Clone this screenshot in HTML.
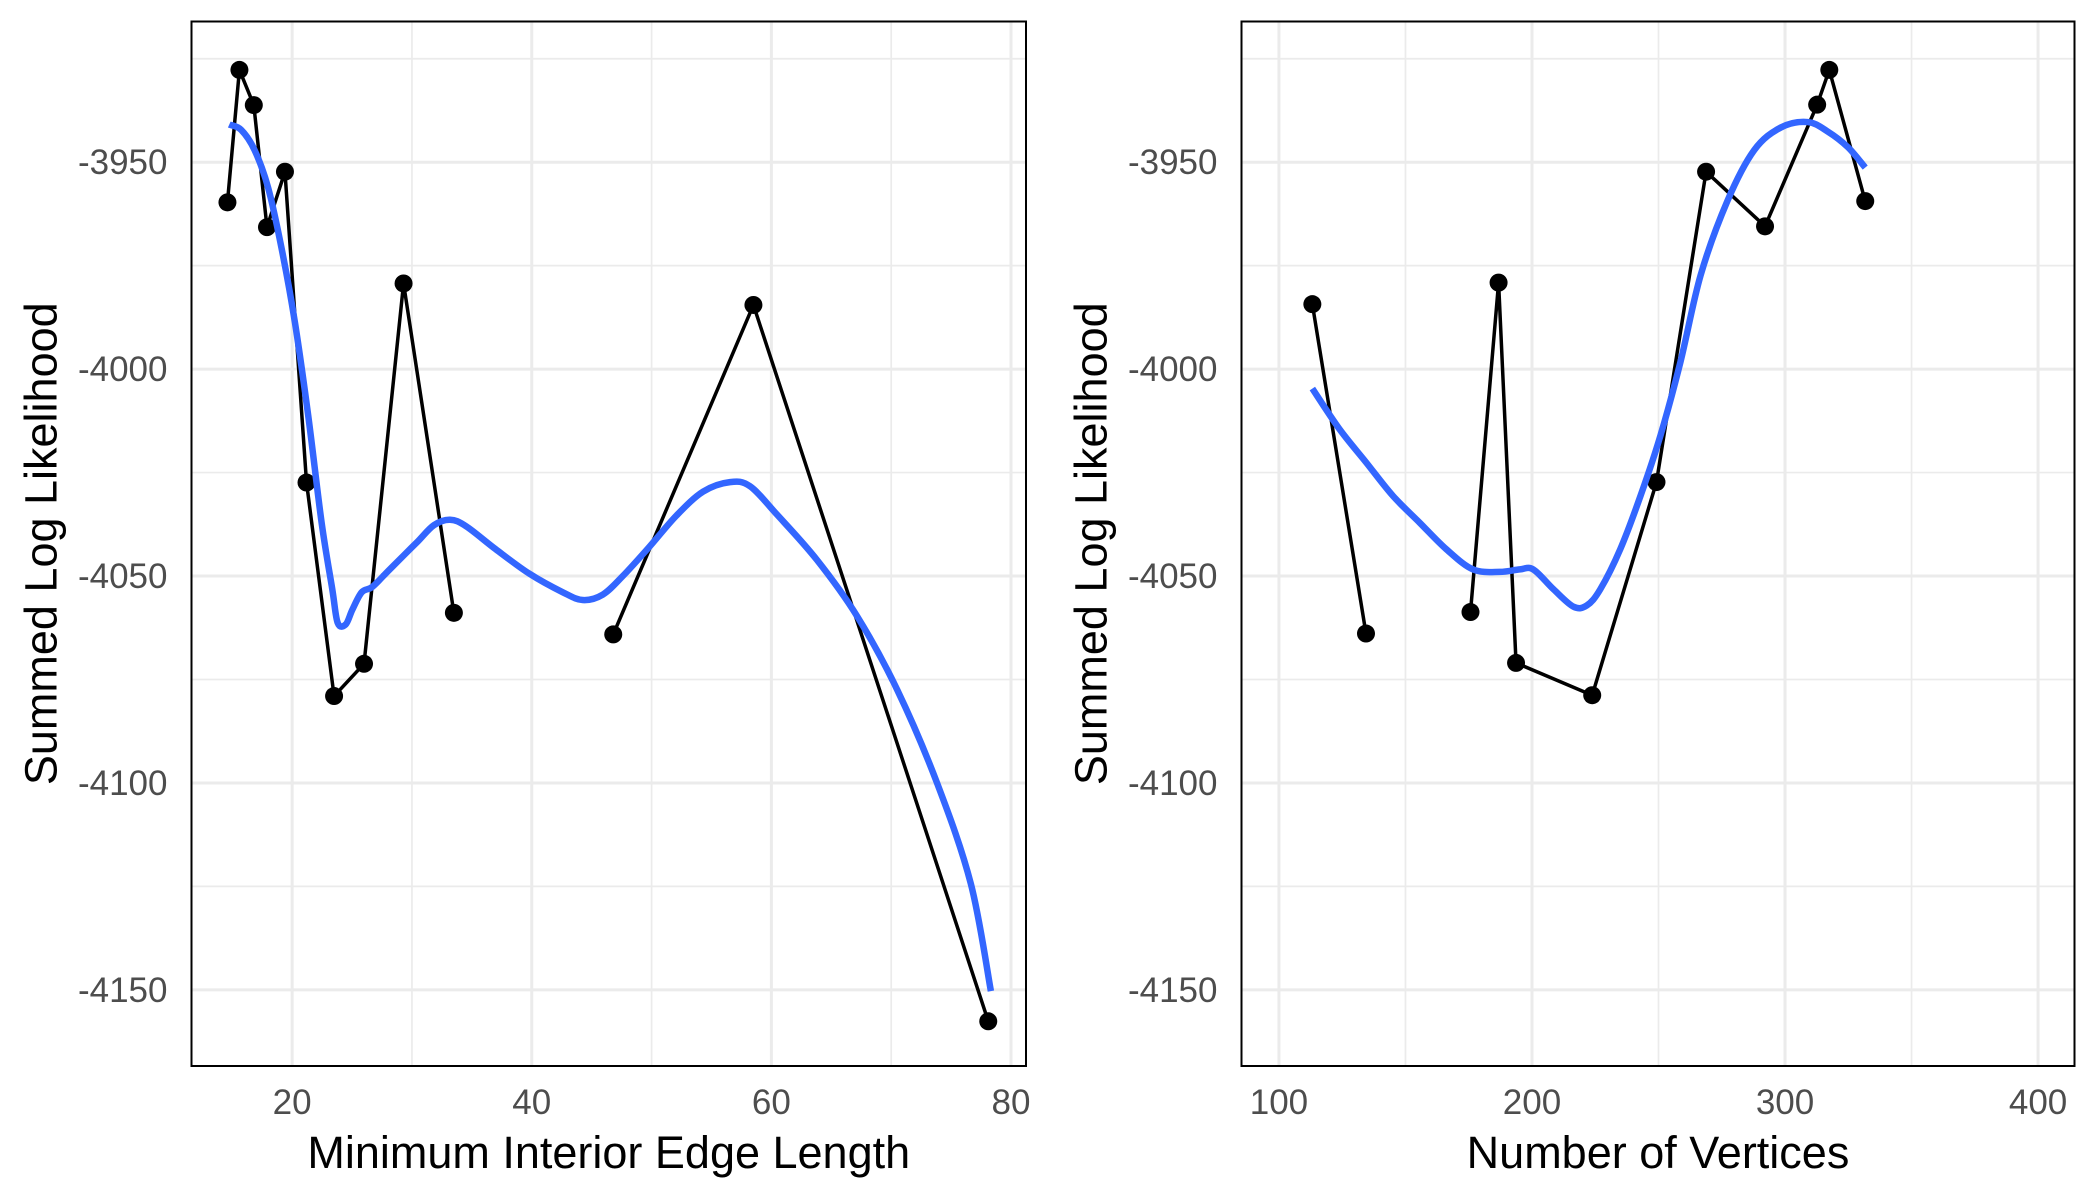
<!DOCTYPE html>
<html><head><meta charset="utf-8"><style>
html,body{margin:0;padding:0;background:#fff;}
svg{display:block;font-family:"Liberation Sans",Arial,sans-serif;}
</style></head><body>
<svg id="chart" width="2100" height="1200" viewBox="0 0 2100 1200"></svg>
<script>
const edgeX = [14.6,15.6,16.8,17.9,19.4,21.2,23.5,26.0,29.3,33.5,46.8,58.5,78.1];
const edgeY = [-3959.7,-3927.7,-3936.2,-3965.7,-3952.3,-4027.4,-4079.0,-4071.2,-3979.3,-4058.9,-4064.1,-3984.5,-4157.6];
const edgeGroup = [1,1,1,1,1,1,1,1,1,1,2,2,2];
const edgeSmoothX = [14.75,15.75,16.87,17.99,19.11,20.22,21.34,22.46,23.35,23.8,24.47,25.03,25.81,26.7,28.04,29.39,30.5,31.84,33.18,34.53,36.98,39.78,42.57,44.25,45.92,47.6,49.83,52.07,54.3,56.54,58.21,60.45,63.8,67.15,70.5,73.85,76.65,78.32];
const edgeSmoothY = [-3940.9,-3942.2,-3947.1,-3956.1,-3970.7,-3988.5,-4011.2,-4037.1,-4053.2,-4061.3,-4061.7,-4058.1,-4053.9,-4052.6,-4048.7,-4044.8,-4041.6,-4037.7,-4036.4,-4038,-4043.5,-4049.4,-4053.9,-4055.8,-4054.5,-4050,-4042.9,-4035.4,-4029.6,-4027.3,-4028.3,-4035.1,-4046.1,-4059.7,-4077.5,-4100.2,-4124.4,-4150.3];
const vertX = [113.2,134.4,175.7,186.8,193.7,223.8,249.2,268.8,292.1,312.7,317.5,331.7];
const vertY = [-3984.3,-4063.9,-4058.7,-3979.1,-4071,-4078.8,-4027.3,-3952.3,-3965.5,-3936.1,-3927.7,-3959.4];
const vertGroup = [2,2,1,1,1,1,1,1,1,1,1,1];
const vertSmoothX = [113.2,123.8,134.4,145,155.6,166.1,176.7,187.3,195.2,200.5,208.5,216.4,221.7,227,234.9,242.9,250.8,258.7,266.7,277.2,287.8,298.4,309,316.9,324.9,331.7];
const vertSmoothY = [-4004.7,-4014.4,-4022.5,-4030.6,-4037.1,-4043.5,-4048.4,-4049,-4048.4,-4048.4,-4053.2,-4057.4,-4057.1,-4053.2,-4043.5,-4030.6,-4016,-3998.2,-3977.2,-3959.4,-3947.1,-3941.6,-3940.3,-3942.6,-3946.4,-3951.3];
const yTicks = [-3950,-4000,-4050,-4100,-4150];
const yMinor = [-3925,-3975,-4025,-4075,-4125];
const edgeTicks = [20,40,60,80];
const edgeMinor = [30,50,70];
const vertTicks = [100,200,300,400];
const vertMinor = [150,250,350];

const NS="http://www.w3.org/2000/svg";
const svg=document.getElementById('chart');
function mk(tag,attrs,parent){const e=document.createElementNS(NS,tag);for(const k in attrs)e.setAttribute(k,attrs[k]);(parent||svg).appendChild(e);return e;}
function smoothPath(pts){
  let d='M'+pts[0][0]+','+pts[0][1];
  for(let i=0;i<pts.length-1;i++){
    const p0=pts[Math.max(0,i-1)],p1=pts[i],p2=pts[i+1],p3=pts[Math.min(pts.length-1,i+2)];
    const c1=[p1[0]+(p2[0]-p0[0])/6,p1[1]+(p2[1]-p0[1])/6];
    const c2=[p2[0]-(p3[0]-p1[0])/6,p2[1]-(p3[1]-p1[1])/6];
    d+=' C'+c1[0]+','+c1[1]+' '+c2[0]+','+c2[1]+' '+p2[0]+','+p2[1];
  }
  return d;
}

function panel(p){
  const g=mk('g',{});
  
  
  const L=p.left,R=p.right,T=21.5,B=1066;
  const yMin=-4168.4,yMax=-3916;
  const sx=v=>L+(v-p.xmin)/(p.xmax-p.xmin)*(R-L);
  const sy=v=>B-(v-yMin)/(yMax-yMin)*(B-T);
  yMinor.forEach(v=>{const l=mk('line',{x1:L,x2:R,y1:sy(v),y2:sy(v),stroke:'#ebebeb','stroke-width':1.7},g);});
  p.minor.forEach(v=>{const l=mk('line',{x1:sx(v),x2:sx(v),y1:T,y2:B,stroke:'#ebebeb','stroke-width':1.7},g);});
  yTicks.forEach(v=>{const l=mk('line',{x1:L,x2:R,y1:sy(v),y2:sy(v),stroke:'#ebebeb','stroke-width':3},g);
    const t=mk('text',{x:L-24,y:sy(v)+12,'text-anchor':'end','font-size':35,fill:'#4d4d4d'},g);t.textContent=v;});
  p.ticks.forEach(v=>{const l=mk('line',{x1:sx(v),x2:sx(v),y1:T,y2:B,stroke:'#ebebeb','stroke-width':3},g);
    const t=mk('text',{x:sx(v),y:1114,'text-anchor':'middle','font-size':35,fill:'#4d4d4d'},g);t.textContent=v;});
  [1,2].forEach(gr=>{
    const pts=[];p.x.forEach((v,i)=>{if(p.g[i]===gr)pts.push(sx(v)+','+sy(p.y[i]));});
    const line=mk('polyline',{points:pts.join(' '),fill:'none',stroke:'#000','stroke-width':3.5,'stroke-linejoin':'round'},g);
    
    
  });
  p.x.forEach((v,i)=>{const c=mk('circle',{cx:sx(v),cy:sy(p.y[i]),r:9,fill:'#000'},g);
    
    });
  const sm=mk('path',{d:smoothPath(p.sx.map((v,i)=>[sx(v),sy(p.sy[i])])),fill:'none',stroke:'#3366FF','stroke-width':6.5,'stroke-linejoin':'round'},g);
  
  
  const box=mk('rect',{x:L,y:T,width:R-L,height:B-T,fill:'none',stroke:'#000','stroke-width':2},g);
  
  
  const xt=mk('text',{x:(L+R)/2,y:1168,'text-anchor':'middle','font-size':45,fill:'#000'},g);
  xt.textContent=p.title;
  
  
  const yx=p.left-135;
  const yt=mk('text',{x:yx,y:(T+B)/2,'text-anchor':'middle','font-size':45,fill:'#000',transform:'rotate(-90 '+yx+' '+((T+B)/2)+')'},g);
  yt.textContent='Summed Log Likelihood';
  
  
}
panel({name:'edge-length-panel',left:191.5,right:1026,xmin:11.6,xmax:81.25,ticks:edgeTicks,minor:edgeMinor,x:edgeX,y:edgeY,g:edgeGroup,sx:edgeSmoothX,sy:edgeSmoothY,title:'Minimum Interior Edge Length'});
panel({name:'vertices-panel',left:1241.5,right:2074.5,xmin:85.2,xmax:414.4,ticks:vertTicks,minor:vertMinor,x:vertX,y:vertY,g:vertGroup,sx:vertSmoothX,sy:vertSmoothY,title:'Number of Vertices'});
</script>
</body></html>
